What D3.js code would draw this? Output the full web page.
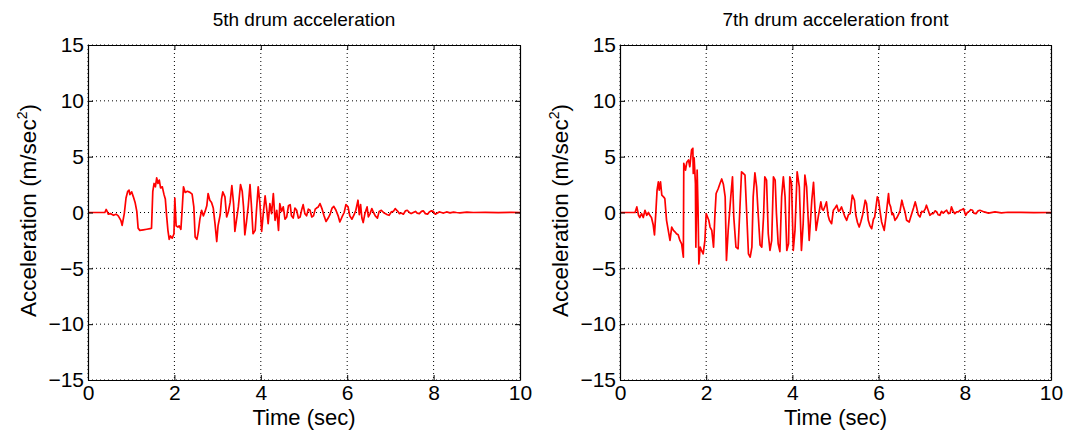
<!DOCTYPE html>
<html>
<head>
<meta charset="utf-8">
<script src="https://cdn.jsdelivr.net/npm/d3@7"></script>
<style>
  html, body { margin: 0; padding: 0; background: #fff; }
  svg { display: block; }
  text { font-family: "Liberation Sans", Arial, Helvetica, sans-serif; fill: #000; }
</style>
</head>
<body>
<svg id="chart" width="1068" height="436"></svg>
<script>
// ---- data ----
const titles = ["5th drum acceleration", "7th drum acceleration front"];
const xLabel = "Time (sec)";
const yLabel = "Acceleration (m/sec";
const xTicks = [0, 2, 4, 6, 8, 10];
const yTicks = [-15, -10, -5, 0, 5, 10, 15];

const time5 = [0,0.39,0.42,0.45,0.47,0.52,0.59,0.65,0.70,0.76,0.79,0.84,0.88,0.92,0.95,0.97,1.01,1.05,1.09,1.13,1.16,1.20,1.28,1.36,1.44,1.47,1.50,1.53,1.56,1.59,1.62,1.65,1.68,1.72,1.76,1.79,1.82,1.85,1.88,1.91,1.95,1.99,2.01,2.04,2.08,2.11,2.15,2.18,2.21,2.25,2.30,2.36,2.41,2.45,2.48,2.52,2.55,2.59,2.63,2.67,2.71,2.75,2.78,2.82,2.86,2.90,2.94,2.98,3.01,3.06,3.09,3.12,3.17,3.21,3.25,3.29,3.33,3.37,3.40,3.44,3.48,3.53,3.57,3.60,3.63,3.67,3.71,3.75,3.78,3.82,3.87,3.90,3.94,3.98,4.02,4.06,4.10,4.14,4.17,4.21,4.25,4.29,4.33,4.37,4.41,4.44,4.48,4.52,4.56,4.60,4.64,4.68,4.71,4.75,4.79,4.83,4.87,4.91,4.95,4.98,5.02,5.06,5.10,5.14,5.18,5.22,5.26,5.29,5.33,5.37,5.42,5.46,5.51,5.56,5.60,5.65,5.69,5.74,5.79,5.83,5.88,5.93,5.97,6.02,6.06,6.11,6.16,6.20,6.25,6.28,6.31,6.34,6.37,6.41,6.46,6.49,6.53,6.57,6.61,6.65,6.70,6.74,6.79,6.84,6.88,6.93,6.97,7.02,7.07,7.11,7.16,7.21,7.25,7.30,7.35,7.39,7.44,7.48,7.53,7.58,7.62,7.67,7.72,7.76,7.81,7.86,7.90,7.95,7.99,8.04,8.09,8.13,8.18,8.23,8.30,8.38,8.46,8.53,8.61,8.77,8.92,9.2,9.5,9.8,10];
const accel5 = [0,0,0.27,0.05,-0.15,-0.1,-0.25,-0.15,-0.3,-0.7,-1.15,-0.1,1.3,1.9,2.0,1.6,1.85,1.4,0.9,0.1,-1.4,-1.6,-1.55,-1.5,-1.45,-1.4,1.9,2.6,2.3,3.1,2.6,2.9,2.2,2.3,1.6,1.2,-0.3,-1.6,-2.4,-2.1,-2.3,-1.9,1.3,-1.2,-1.3,-1.2,-1.5,0.3,2.3,1.8,1.9,1.8,1.65,0.5,-2.2,-2.4,-1.8,-0.6,0.2,-0.3,0.1,0.6,1.7,1.1,0.9,0.4,-1.0,-2.6,-1.2,-0.2,1.2,1.85,1.4,-0.4,0.1,0.9,2.4,0.8,-1.7,-0.6,0.5,2.5,1.9,0.5,-2.0,-0.8,0.6,2.5,0.8,-1.9,-1.6,0.2,2.3,0.8,-1.7,0.0,1.5,0.2,-1.0,0.8,-0.1,1.7,-0.7,0.2,-1.6,0.8,0.1,0.5,-0.6,-0.4,0.6,0.7,-0.3,-0.5,0.4,0.2,-0.5,-0.4,0.3,0.7,-0.1,-0.3,0.3,0.2,-0.4,-0.3,0.3,0.4,0.5,0.8,0.3,-0.25,-0.8,-0.5,-0.2,0.4,0.55,0.2,-0.3,-0.85,-0.4,0.0,0.7,0.5,-0.3,-0.6,-0.2,0.2,1.1,-0.2,0.7,-0.5,-0.9,-0.1,0.5,-0.4,-0.1,0.35,0.0,-0.3,-0.5,0.1,0.2,0.0,-0.1,-0.2,-0.25,0.05,0.1,0.35,0.15,-0.1,-0.05,-0.15,0.15,0.2,0.0,-0.1,0.0,0.1,-0.05,-0.1,0.1,0.15,-0.1,-0.15,0.05,0.15,0.1,-0.15,-0.05,0.05,0.0,-0.05,0.05,-0.03,0.04,0.0,-0.03,0.03,0.0,0.02,-0.01,0.01,0];

const time7 = [0,0.35,0.39,0.43,0.46,0.50,0.54,0.58,0.62,0.66,0.70,0.73,0.77,0.80,0.83,0.86,0.89,0.91,0.94,0.97,1.01,1.04,1.08,1.12,1.16,1.20,1.24,1.28,1.31,1.35,1.39,1.43,1.47,1.48,1.52,1.55,1.59,1.62,1.66,1.69,1.70,1.72,1.75,1.76,1.79,1.81,1.83,1.86,1.89,1.93,1.97,2.00,2.03,2.06,2.09,2.13,2.17,2.20,2.23,2.28,2.32,2.36,2.40,2.44,2.47,2.51,2.57,2.61,2.64,2.69,2.74,2.78,2.82,2.86,2.90,2.94,2.98,3.02,3.06,3.09,3.13,3.17,3.21,3.25,3.29,3.33,3.36,3.40,3.44,3.48,3.52,3.56,3.60,3.63,3.67,3.71,3.75,3.79,3.83,3.87,3.91,3.94,3.98,4.02,4.06,4.11,4.16,4.21,4.25,4.29,4.33,4.39,4.45,4.49,4.55,4.60,4.66,4.69,4.72,4.76,4.79,4.83,4.86,4.91,4.95,4.99,5.03,5.07,5.10,5.14,5.18,5.22,5.26,5.30,5.34,5.37,5.39,5.44,5.47,5.51,5.55,5.59,5.63,5.69,5.72,5.76,5.80,5.84,5.88,5.91,5.97,6.00,6.03,6.07,6.13,6.17,6.23,6.25,6.28,6.31,6.34,6.38,6.42,6.46,6.50,6.54,6.57,6.61,6.65,6.71,6.77,6.81,6.85,6.88,6.92,6.96,7.00,7.04,7.08,7.11,7.15,7.19,7.23,7.27,7.31,7.35,7.38,7.42,7.46,7.50,7.54,7.58,7.62,7.66,7.69,7.73,7.77,7.81,7.85,7.89,7.93,7.97,8.02,8.06,8.10,8.14,8.18,8.21,8.26,8.31,8.35,8.45,8.55,8.70,8.85,9.0,9.3,9.6,10];
const accel7 = [0,0,0.5,-0.25,-0.45,-0.1,-0.45,0.2,-0.25,0.0,-0.3,-0.45,-1.1,-2.0,-0.1,2.0,2.75,2.0,2.75,1.55,1.4,1.25,-0.7,-1.6,-2.5,-1.3,-1.6,-1.75,-1.9,-2.0,-2.5,-2.8,-4.0,4.4,3.8,4.5,4.7,4.1,5.6,5.75,3.5,4.9,2.6,-3.1,3.8,0.5,-4.6,-3.1,-3.4,-3.7,-2.5,-0.1,-0.4,-0.7,-1.3,-1.6,-3.1,-0.4,1.7,2.15,2.6,3.0,2.5,1.4,-4.3,-1.6,1.4,3.2,-0.4,-3.1,-3.25,0.2,3.65,3.5,3.35,-0.1,-3.7,-4.0,-3.1,1.4,3.55,2.3,-0.4,-2.9,-3.1,-0.4,3.2,2.9,-1.9,-3.4,-2.5,3.2,2.9,-0.1,-2.8,-3.5,1.4,3.2,1.4,-3.4,-2.8,3.2,2.6,-3.4,-1.6,3.65,2.3,-3.4,-1.0,3.35,2.3,-2.5,1.1,2.7,-1.6,-0.4,0.95,0.3,0.2,0.6,0.95,-0.3,-0.7,-1.0,0.2,0.4,0.65,0.1,0.2,0.5,0.05,-0.4,-0.7,-0.2,-0.1,0.9,1.55,1.1,-0.2,-0.9,-1.3,-0.8,-0.2,1.1,0.8,-0.7,-1.2,-1.45,-0.6,-0.4,1.4,1.1,0.2,-0.85,-1.6,-0.4,1.7,0.8,0.5,-0.2,-0.1,-0.7,-0.5,-0.2,0.2,1.1,0.6,0.1,-0.7,-0.85,-0.1,0.4,0.95,0.5,-0.2,-0.4,0.1,0.05,0.3,0.65,0.2,-0.25,-0.1,-0.1,0.15,0.05,-0.2,-0.25,0.1,-0.05,0.1,0.2,-0.1,-0.05,0.5,0.1,-0.1,0.05,0.05,0.2,0.25,0.35,-0.25,0.0,0.1,0.25,0.2,-0.05,-0.1,0.15,0.2,0.05,-0.05,0.05,-0.03,0.02,0.01,-0.01,0];

const series = [
  { title: titles[0], time: time5, accel: accel5 },
  { title: titles[1], time: time7, accel: accel7 }
];

// ---- layout ----
const svg = d3.select("#chart");
const panelX = [[88, 520], [620, 1051]];
const plotTop = 45, plotBottom = 380;
const fmt = d3.format("");

series.forEach((s, i) => {
  const [x0, x1] = panelX[i];
  const x = d3.scaleLinear().domain([0, 10]).range([x0, x1]);
  const y = d3.scaleLinear().domain([-15, 15]).range([plotBottom, plotTop]);
  const g = svg.append("g");

  // grid
  g.append("g").selectAll("line").data(xTicks).join("line")
    .attr("x1", d => x(d)).attr("x2", d => x(d)).attr("y1", plotTop).attr("y2", plotBottom)
    .attr("stroke", "#000").attr("stroke-width", 1).attr("stroke-dasharray", "1,3");
  g.append("g").selectAll("line").data(yTicks).join("line")
    .attr("y1", d => y(d)).attr("y2", d => y(d)).attr("x1", x0).attr("x2", x1)
    .attr("stroke", "#000").attr("stroke-width", 1).attr("stroke-dasharray", "1,3");

  // data line
  const pts = s.time.map((t, k) => [t, s.accel[k]]);
  g.append("path").datum(pts)
    .attr("fill", "none").attr("stroke", "#ff0000").attr("stroke-width", 1.7)
    .attr("stroke-linejoin", "round")
    .attr("d", d3.line().x(d => x(d[0])).y(d => y(d[1])));

  // axes
  const axB = g.append("g").attr("transform", `translate(0,${plotBottom})`)
    .call(d3.axisBottom(x).tickValues(xTicks).tickSizeInner(-5).tickSizeOuter(0).tickPadding(5).tickFormat(fmt));
  const axT = g.append("g").attr("transform", `translate(0,${plotTop})`)
    .call(d3.axisTop(x).tickValues(xTicks).tickSizeInner(-5).tickSizeOuter(0).tickFormat(""));
  const axL = g.append("g").attr("transform", `translate(${x0},0)`)
    .call(d3.axisLeft(y).tickValues(yTicks).tickSizeInner(-5).tickSizeOuter(0).tickPadding(4).tickFormat(d3.format("")));
  const axR = g.append("g").attr("transform", `translate(${x1},0)`)
    .call(d3.axisRight(y).tickValues(yTicks).tickSizeInner(-5).tickSizeOuter(0).tickFormat(""));
  [axB, axT, axL, axR].forEach(a => {
    a.select(".domain").attr("stroke", "#000").attr("stroke-width", 1.2);
    a.selectAll(".tick line").attr("stroke", "#000");
    a.selectAll("text").attr("font-size", 21).attr("font-family", "Liberation Sans, Arial, sans-serif").attr("fill", "#000");
  });

  // title
  g.append("text").attr("x", (x0 + x1) / 2).attr("y", 26)
    .attr("text-anchor", "middle").attr("font-size", 19).text(s.title);
  // x label
  g.append("text").attr("x", (x0 + x1) / 2).attr("y", 425)
    .attr("text-anchor", "middle").attr("font-size", 22).text(xLabel);
  // y label
  const yl = g.append("text")
    .attr("transform", `translate(${x0 - 52},${(plotTop + plotBottom) / 2 - 2}) rotate(-90)`)
    .attr("text-anchor", "middle").attr("font-size", 22.5);
  yl.append("tspan").text(yLabel);
  yl.append("tspan").attr("dy", -9).attr("font-size", 14).text("2");
  yl.append("tspan").attr("dy", 9).text(")");
});
</script>
</body>
</html>
